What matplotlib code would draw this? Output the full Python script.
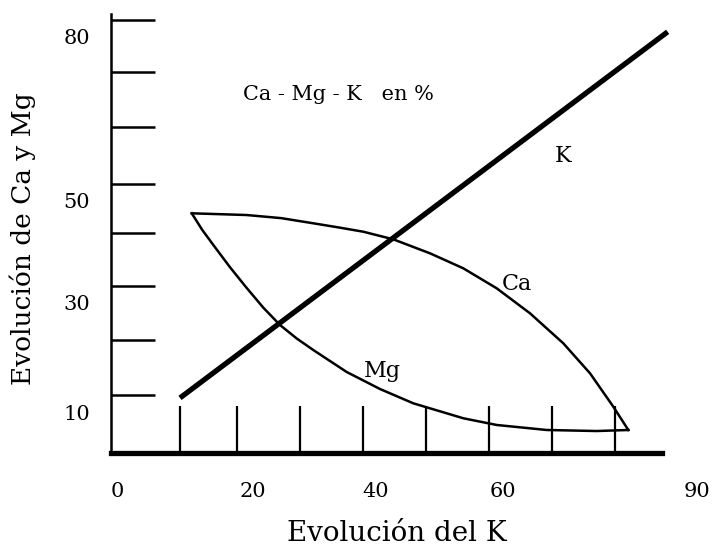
import numpy as np
import matplotlib
matplotlib.use("Agg")
import matplotlib.pyplot as plt

## Data -------------------

# Curva del Ca (x = K, y = Ca)
ca_x = [12.82, 21.55, 27.0, 32.13, 36.0, 40.07, 44.83, 50.66, 55.95, 61.25,
        66.54, 71.83, 76.07, 79.77, 82.15]
ca_y = [44.39, 44.07, 43.5, 42.54, 41.8, 40.98, 39.57, 36.98, 34.20, 30.50,
        25.87, 20.31, 14.76, 8.57, 4.26]

# Curva del Mg
mg_x = [12.82, 14.5, 16.25, 18.9, 21.55, 24.2, 26.84, 29.5, 32.13, 37.43,
        42.72, 48.01, 55.95, 61.25, 69.19, 77.13, 82.15]
mg_y = [44.39, 41.3, 38.52, 34.4, 30.56, 26.9, 23.70, 21.2, 19.07, 15.0,
        11.85, 9.20, 6.43, 5.19, 4.26, 4.07, 4.26]

# Recta del K
k_x = [10.96, 88.4]
k_y = [10.2, 78.0]

# Marcas de los ejes
x_ticks = [11, 20, 30, 40, 50, 60, 70, 80]
y_ticks = [10.7, 20.9, 30.9, 40.7, 49.8, 60.4, 70.6, 80.2]

# Etiquetas de los ejes (valor, posicion)
x_labels = ["0", "20", "40", "60", "90"]
x_label_pos = [0.95, 22.6, 42.1, 62.3, 93.1]
y_labels = ["80", "50", "30", "10"]
y_label_pos = [75.7, 45.4, 26.5, 6.1]

plt.rcParams["font.family"] = ["DejaVu Serif"]

## Plotting -------------------

fig = plt.figure(figsize=(7.16, 5.49), dpi=100)
ax = fig.add_axes([111 / 716, 96 / 549, 551 / 716, 439 / 549])
ax.set_xlim(0, 87.5)
ax.set_ylim(0, 81.3)

ax.plot(ca_x, ca_y, color="black", lw=1.8, clip_on=False)
ax.plot(mg_x, mg_y, color="black", lw=1.8, clip_on=False)
ax.plot(k_x, k_y, color="black", lw=3.8, solid_capstyle="butt", clip_on=False)

# Ejes
ax.spines["top"].set_visible(False)
ax.spines["right"].set_visible(False)
ax.spines["left"].set_linewidth(1.8)
ax.spines["bottom"].set_linewidth(3.8)
ax.set_xticks(x_ticks)
ax.set_yticks(y_ticks)
ax.tick_params(axis="x", direction="in", length=34, width=1.6, labelbottom=False)
ax.tick_params(axis="y", direction="in", length=32, width=1.8, labelleft=False)

for lab, pos in zip(x_labels, x_label_pos):
    ax.text(pos, -8.2, lab, ha="center", va="baseline", fontsize=15, clip_on=False)
for lab, pos in zip(y_labels, y_label_pos):
    ax.text(-5.4, pos, lab, ha="center", va="baseline", fontsize=15, clip_on=False)

# Textos
ax.text(20.96, 65.4, "Ca - Mg - K   en %", ha="left", va="baseline", fontsize=15)
ax.text(71.8, 53.9, "K", ha="center", va="baseline", fontsize=16)
ax.text(64.5, 30.2, "Ca", ha="center", va="baseline", fontsize=16)
ax.text(43.1, 14.1, "Mg", ha="center", va="baseline", fontsize=16)

fig.text(397 / 716, 8 / 549, "Evolución del K", ha="center", va="baseline", fontsize=20)
fig.text(23 / 716, 1 - 239 / 549, "Evolución de Ca y Mg", ha="center", va="center",
         rotation=90, fontsize=19)

fig.savefig("out.png", dpi=100)
